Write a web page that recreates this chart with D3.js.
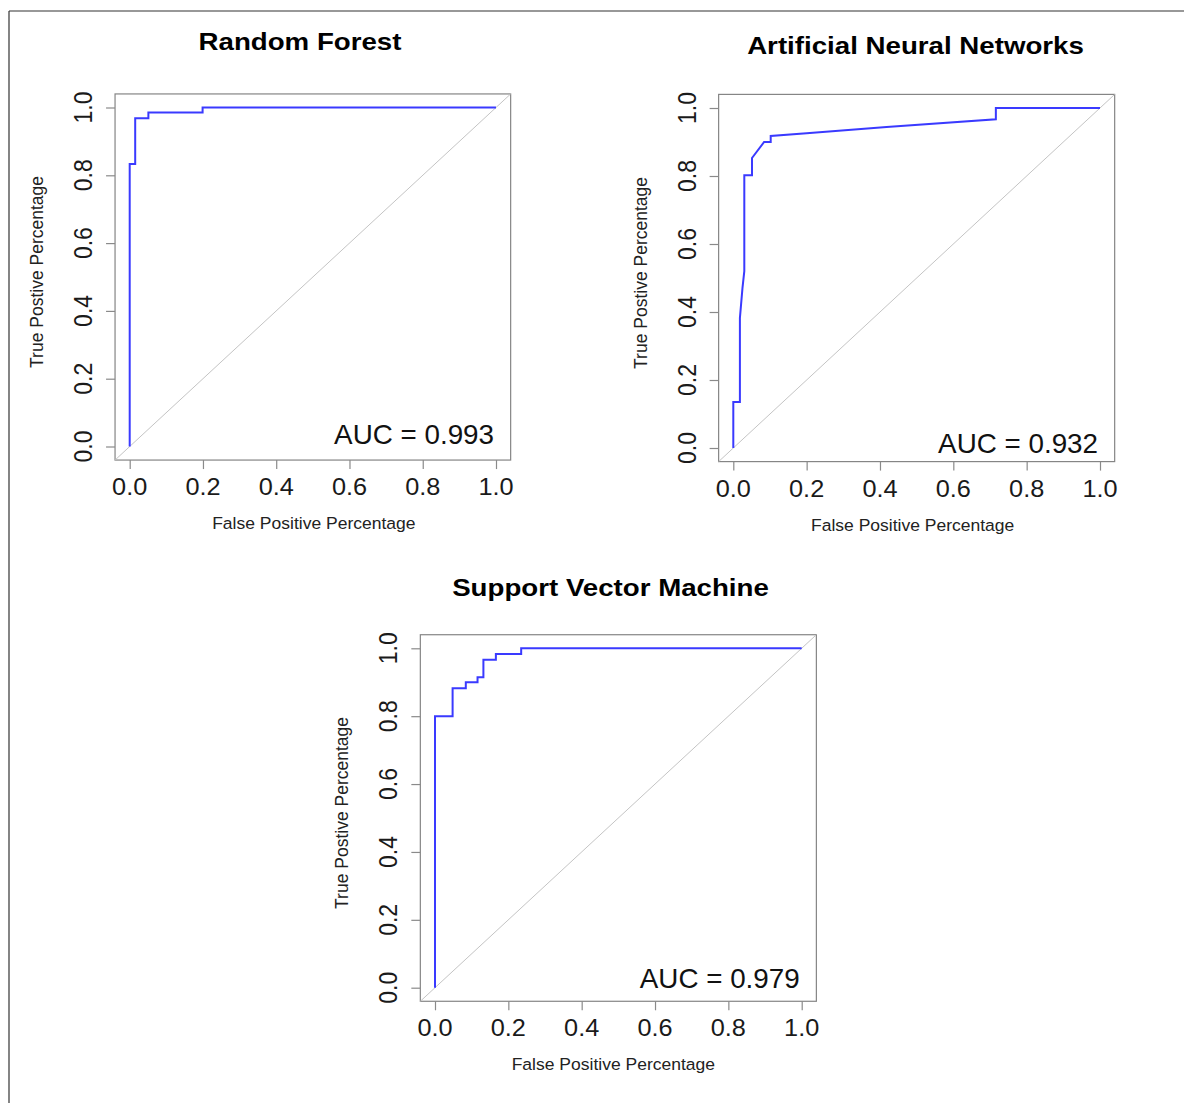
<!DOCTYPE html>
<html>
<head>
<meta charset="utf-8">
<script src="https://cdn.jsdelivr.net/npm/d3@7"></script>
<style>
  html, body { margin: 0; padding: 0; background: #fff; }
  svg { display: block; }
  text { font-family: "Liberation Sans", Arial, Helvetica, sans-serif; }
</style>
</head>
<body>
<svg id="chart" width="1184" height="1103"></svg>
<script>
// ROC curves: false positive rate vs true positive rate for each model
const rfFpr  = [0, 0, 0.015, 0.015, 0.051, 0.051, 0.199, 0.199, 1];
const rfTpr  = [0, 0.833, 0.833, 0.968, 0.968, 0.985, 0.985, 1, 1];

const annFpr = [0, 0, 0.018, 0.018, 0.025, 0.030, 0.030, 0.051, 0.051, 0.084, 0.102, 0.102, 0.200, 0.418, 0.716, 0.716, 1];
const annTpr = [0, 0.135, 0.135, 0.382, 0.470, 0.520, 0.802, 0.802, 0.853, 0.900, 0.900, 0.918, 0.926, 0.944, 0.967, 1, 1];

const svmFpr = [0, 0, 0.048, 0.048, 0.084, 0.084, 0.116, 0.116, 0.132, 0.132, 0.166, 0.166, 0.235, 0.235, 1];
const svmTpr = [0, 0.800, 0.800, 0.882, 0.882, 0.900, 0.900, 0.915, 0.915, 0.966, 0.966, 0.983, 0.983, 1, 1];

const modelNames = ["Random Forest", "Artificial Neural Networks", "Support Vector Machine"];
const aucValues  = [0.993, 0.932, 0.979];
const tickValues = [0, 0.2, 0.4, 0.6, 0.8, 1.0];
const tickLabels = ["0.0", "0.2", "0.4", "0.6", "0.8", "1.0"];
const xTitle = "False Positive Percentage";
const yTitle = "True Postive Percentage";

// panel layout: pixel positions of the 0 and 1 values on each axis
const panels = [
  { name: modelNames[0], auc: aucValues[0], fpr: rfFpr,  tpr: rfTpr,
    x0: 129.7, x1: 496,   y0: 446.5, y1: 107.5, titleX: 300,   titleY: 49.5, aucY: 444, xLabDx: 1 },
  { name: modelNames[1], auc: aucValues[1], fpr: annFpr, tpr: annTpr,
    x0: 733.3, x1: 1100,  y0: 448,   y1: 108,   titleX: 915.5, titleY: 53.5, aucY: 453, xLabDx: -4 },
  { name: modelNames[2], auc: aucValues[2], fpr: svmFpr, tpr: svmTpr,
    x0: 435,   x1: 801.7, y0: 987.7, y1: 648.3, titleX: 610.5, titleY: 596,  aucY: 988, xLabDx: -5 }
];

const svg = d3.select("#chart");

// outer frame
svg.append("line").attr("x1", 9).attr("y1", 11).attr("x2", 1184).attr("y2", 11)
  .attr("stroke", "#333").attr("stroke-width", 1.2);
svg.append("line").attr("x1", 9).attr("y1", 11).attr("x2", 9).attr("y2", 1103)
  .attr("stroke", "#333").attr("stroke-width", 1.2);

// text helper with optional horizontal stretch and rotation
function label(g, x, y, str, o) {
  const sx = o.sx || 1;
  const t = g.append("g")
    .attr("transform", o.rotate
      ? `translate(${x},${y}) rotate(-90) scale(1,${sx})`
      : `translate(${x},${y}) scale(${sx},1)`);
  t.append("text")
    .attr("text-anchor", o.anchor || "middle")
    .attr("font-size", o.size)
    .attr("font-weight", o.weight || "normal")
    .attr("fill", o.fill || "#111")
    .text(str);
}

panels.forEach(p => {
  const x = d3.scaleLinear().domain([0, 1]).range([p.x0, p.x1]);
  const y = d3.scaleLinear().domain([0, 1]).range([p.y0, p.y1]);
  const g = svg.append("g");

  const left = x(-0.04), right = x(1.04), top = y(1.04), bottom = y(-0.04);

  // plot box
  g.append("rect")
    .attr("x", left).attr("y", top)
    .attr("width", right - left).attr("height", bottom - top)
    .attr("fill", "none").attr("stroke", "#858585").attr("stroke-width", 1.2);

  // chance diagonal across the whole plot region
  g.append("line")
    .attr("x1", x(-0.04)).attr("y1", y(-0.04))
    .attr("x2", x(1.04)).attr("y2", y(1.04))
    .attr("stroke", "#c4c4c4").attr("stroke-width", 1);

  // axes (ticks only; box provides the frame)
  const xAxis = d3.axisBottom(x).tickValues(tickValues).tickSize(9).tickFormat("");
  const xg = g.append("g").attr("transform", `translate(0,${bottom})`).call(xAxis);
  const yAxis = d3.axisLeft(y).tickValues(tickValues).tickSize(9).tickFormat("");
  const yg = g.append("g").attr("transform", `translate(${left},0)`).call(yAxis);
  [xg, yg].forEach(a => {
    a.select(".domain").remove();
    a.selectAll(".tick line").attr("stroke", "#8a8a8a").attr("stroke-width", 1.2);
  });

  // tick labels
  tickValues.forEach((v, i) => {
    label(g, x(v), bottom + 35, tickLabels[i], { size: 23, sx: 1.1, fill: "#1a1a1a" });
    label(g, left - 23, y(v), tickLabels[i], { size: 23, sx: 1.1, rotate: true, fill: "#1a1a1a" });
  });

  // axis titles
  label(g, x(0.5) + p.xLabDx, bottom + 69, xTitle, { size: 17, sx: 1.03, fill: "#222" });
  label(g, left - 72, y(0.5) - 5, yTitle, { size: 17.5, rotate: true, fill: "#222" });

  // panel title
  label(g, p.titleX, p.titleY, p.name, { size: 24.5, weight: "bold", sx: 1.13, fill: "#000" });

  // ROC curve
  const pts = p.fpr.map((f, i) => [f, p.tpr[i]]);
  g.append("path")
    .datum(pts)
    .attr("d", d3.line().x(d => x(d[0])).y(d => y(d[1])))
    .attr("fill", "none")
    .attr("stroke", "#3a3aff")
    .attr("stroke-width", 2)
    .attr("stroke-linejoin", "miter");

  // AUC annotation
  label(g, x(1) - 2, p.aucY, "AUC = " + p.auc.toFixed(3), { size: 27, sx: 1.03, anchor: "end", fill: "#111" });
});
</script>
</body>
</html>
